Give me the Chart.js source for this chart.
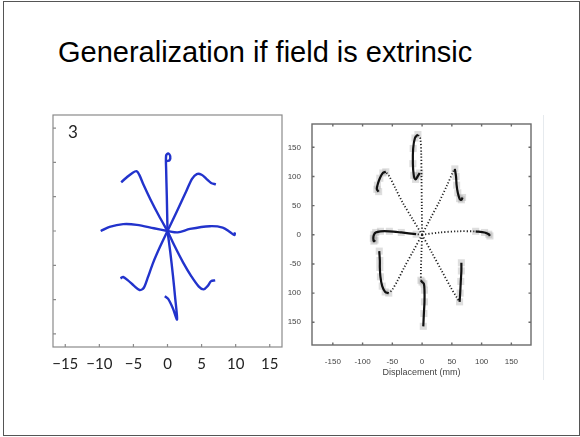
<!DOCTYPE html>
<html lang="en">
<head>
<meta charset="UTF-8">
<title>Generalization if field is extrinsic</title>
<script src="https://cdn.jsdelivr.net/npm/chart.js"></script>
<style>
    body { margin: 0; width: 580px; height: 437px; background: #fff; position: relative; overflow: hidden; font-family: "Liberation Sans", Arial, sans-serif; }
    .slide { position: absolute; left: 3px; top: 1px; width: 575px; height: 433px; border: 1px solid #555; }
    h1 { position: absolute; left: 58px; top: 38px; margin: 0; font-weight: normal; font-size: 29px; line-height: 29px; color: #000; white-space: nowrap; }
    #boxLeft { position: absolute; left: 40px; top: 105px; width: 250px; height: 275px; }
    #boxRight { position: absolute; left: 288px; top: 115px; width: 255px; height: 265px; border-right: 1px solid #e6eaee; }
</style>
</head>
<body>
<div class="slide"></div>
<h1>Generalization if field is extrinsic</h1>
<div id="boxLeft"><canvas id="graficoModelo"></canvas></div>
<div id="boxRight"><canvas id="graficoDados"></canvas></div>

<script>
    // ---- left panel: simulated hand paths (cm) ----
    const ticksModelo = [-15, -10, -5, 0, 5, 10, 15];
    const modeloCima = [[0, 0], [-0.1, 5], [-0.2, 9], [-0.2, 11], [0.1, 11.3], [0.4, 10.9], [0.3, 10.3], [-0.1, 10.2]];
    const modeloCimaEsq = [[0, 0], [-1.3, 2.3], [-2.5, 4.6], [-3.5, 6.7], [-4.1, 8.1], [-4.5, 8.7], [-5.1, 8.5], [-6, 7.8], [-6.8, 7.1]];
    const modeloCimaDir = [[0, 0], [1.3, 2.7], [2.8, 5.9], [3.6, 7.6], [4.3, 8.3], [5.0, 8.2], [5.7, 7.6], [6.4, 7.0], [7.1, 6.8]];
    const modeloDir = [[0, 0], [1.5, -0.2], [3.3, 0.3], [6.2, 0.7], [8.1, 0.5], [9.1, -0.1], [9.8, -0.6], [9.9, -0.2]];
    const modeloEsq = [[0, 0], [-2, 0.4], [-4.5, 0.9], [-6.5, 1.0], [-8.5, 0.6], [-9.8, 0]];
    const modeloBaixoEsq = [[0, 0], [-1.1, -2.3], [-2.1, -4.6], [-2.9, -6.8], [-3.5, -8.3], [-4.1, -8.6], [-4.9, -8.0], [-5.8, -7.2], [-6.5, -6.7], [-6.9, -6.9]];
    const modeloBaixoDir = [[0, 0], [1.1, -2.3], [2.3, -4.6], [3.5, -6.6], [4.6, -8.1], [5.3, -8.5], [5.9, -8.0], [6.4, -7.3], [7.0, -7.2]];
    const modeloBaixo = [[0, 0], [0.4, -3], [0.8, -6.5], [1.1, -9.5], [1.4, -12.9], [0.8, -11.3], [0.1, -9.9], [-0.4, -9.5]];

    // ---- right panel: measured paths (mm), fast part + slow end ----
    const ticksDados = [-150, -100, -50, 0, 50, 100, 150];
    const cimaIda = [[0, 0], [-0.5, 50], [-1, 100], [-1.5, 140], [-3, 165], [-7, 172]];
    const cimaFim = [[-7, 172], [-12, 166], [-15, 148], [-15.5, 122], [-14, 102], [-11, 95], [-7, 101], [-4, 106]];
    const cimaEsqIda = [[0, 0], [-16, 27], [-32, 54], [-45, 80], [-55, 100], [-61, 108]];
    const cimaEsqFim = [[-61, 108], [-66, 106], [-71, 97], [-75, 85], [-76, 78], [-73, 74]];
    const cimaDirIda = [[0, 0], [14, 28], [28, 55], [42, 85], [52, 108], [55, 113]];
    const cimaDirFim = [[55, 113], [57, 100], [58, 85], [60, 72], [63, 62], [66, 60], [68, 64]];
    const dirIda = [[0, 0], [30, 4], [60, 6], [90, 6]];
    const dirFim = [[90, 6], [105, 4], [112, 1], [114, -2]];
    const esqIda = [[0, 0], [-10, 1]];
    const esqFim = [[-10, 1], [-35, 4], [-55, 6], [-70, 6], [-78, 4], [-81, 0], [-82, -6], [-81, -11], [-79, -9]];
    const baixoEsqIda = [[0, 0], [-15, -28], [-30, -56], [-42, -80], [-50, -94], [-56, -100]];
    const baixoEsqFim = [[-56, -100], [-62, -98], [-67, -88], [-70, -72], [-71, -56], [-71, -44], [-72, -28]];
    const baixoDirIda = [[0, 0], [16, -30], [32, -60], [48, -90], [58, -107], [63, -115]];
    const baixoDirFim = [[63, -115], [64, -100], [65, -80], [66, -62], [66, -48]];
    const baixoIda = [[0, 0], [-1, -30], [-2, -60], [-2, -78]];
    const baixoFim = [[-2, -78], [0, -81], [3, -84], [4, -95], [4, -115], [3, -135], [2, -157]];

    const toXY = pts => pts.map(([x, y]) => ({ x, y }));

    // frame + inward tick marks drawn from the scales
    const moldura = {
        id: 'moldura',
        afterDatasetsDraw(chart, args, opts) {
            const { ctx, chartArea: a, scales } = chart;
            ctx.save();
            ctx.strokeStyle = opts.color;
            ctx.lineWidth = opts.width;
            ctx.strokeRect(a.left, a.top, a.right - a.left, a.bottom - a.top);
            ctx.beginPath();
            scales.x.ticks.forEach(t => {
                const px = scales.x.getPixelForValue(t.value);
                ctx.moveTo(px, a.bottom); ctx.lineTo(px, a.bottom - opts.tick);
                if (opts.mirror) { ctx.moveTo(px, a.top); ctx.lineTo(px, a.top + opts.tick); }
            });
            scales.y.ticks.forEach(t => {
                const py = scales.y.getPixelForValue(t.value);
                ctx.moveTo(a.left, py); ctx.lineTo(a.left + opts.tick, py);
                if (opts.mirror) { ctx.moveTo(a.right, py); ctx.lineTo(a.right - opts.tick, py); }
            });
            ctx.stroke();
            if (opts.label) {
                ctx.fillStyle = '#222';
                ctx.font = '17px Lato';
                ctx.textBaseline = 'top';
                ctx.fillText(opts.label, a.left + 15, a.top + 9);
            }
            ctx.restore();
        }
    };

    // left chart
    const curvasModelo = [modeloCima, modeloCimaEsq, modeloCimaDir, modeloDir, modeloEsq, modeloBaixoEsq, modeloBaixoDir, modeloBaixo];

    new Chart(document.getElementById('graficoModelo'), {
        type: 'scatter',
        data: {
            datasets: curvasModelo.map(c => ({
                data: toXY(c),
                showLine: true,
                borderColor: '#2233cc',
                borderWidth: 2.4,
                pointRadius: 0,
                tension: 0.3
            }))
        },
        options: {
            responsive: true,
            maintainAspectRatio: false,
            animation: false,
            layout: { padding: { top: 10, right: 8, left: 0, bottom: 0 } },
            plugins: {
                legend: { display: false },
                tooltip: { enabled: false },
                moldura: { color: '#8a8a8a', width: 1.2, tick: 3, mirror: false, label: '3' }
            },
            scales: {
                x: {
                    type: 'linear', min: -16.8, max: 16.8,
                    afterBuildTicks: s => { s.ticks = ticksModelo.map(v => ({ value: v })); },
                    afterFit: s => { s.height = 33; },
                    grid: { display: false },
                    border: { display: false },
                    ticks: {
                        color: '#222', padding: 0,
                        font: { family: 'Lato', size: 15 },
                        callback: v => String(v).replace('-', '\u2212')
                    }
                },
                y: {
                    type: 'linear', min: -16.9, max: 16.9,
                    afterBuildTicks: s => { s.ticks = ticksModelo.map(v => ({ value: v })); },
                    afterFit: s => { s.width = 13; },
                    grid: { display: false },
                    border: { display: false },
                    ticks: { display: false }
                }
            }
        },
        plugins: [moldura]
    });

    // right chart
    const idas = [cimaIda, cimaEsqIda, cimaDirIda, dirIda, esqIda, baixoEsqIda, baixoDirIda, baixoIda];
    const fins = [cimaFim, cimaEsqFim, cimaDirFim, dirFim, esqFim, baixoEsqFim, baixoDirFim, baixoFim];

    const sombras = fins.map(c => ({
        data: toXY(c),
        showLine: false,
        pointStyle: 'rect',
        pointRadius: 5,
        backgroundColor: 'rgba(160,160,160,0.35)',
        borderWidth: 0,
        order: 10
    }));
    const tracosIda = idas.map(c => ({
        data: toXY(c),
        showLine: true,
        borderColor: '#222',
        borderWidth: 1.8,
        borderDash: [1.2, 2],
        pointRadius: 0,
        tension: 0.3,
        order: 1
    }));
    const tracosFim = fins.map(c => ({
        data: toXY(c),
        showLine: true,
        borderColor: '#111',
        borderWidth: 2.2,
        pointRadius: 0,
        tension: 0.3,
        order: 0
    }));

    new Chart(document.getElementById('graficoDados'), {
        type: 'scatter',
        data: { datasets: [...sombras, ...tracosIda, ...tracosFim] },
        options: {
            responsive: true,
            maintainAspectRatio: false,
            animation: false,
            layout: { padding: { top: 9, right: 12, left: 0, bottom: 0 } },
            plugins: {
                legend: { display: false },
                tooltip: { enabled: false },
                moldura: { color: '#6a6a6a', width: 1.4, tick: 2.5, mirror: true }
            },
            scales: {
                x: {
                    type: 'linear', min: -185, max: 183,
                    afterBuildTicks: s => { s.ticks = ticksDados.map(v => ({ value: v })); },
                    afterFit: s => { s.height = 35; },
                    grid: { display: false },
                    border: { display: false },
                    ticks: { color: '#444', padding: 4, font: { family: 'Liberation Sans', size: 8 } },
                    title: {
                        display: true, text: 'Displacement (mm)', color: '#444',
                        font: { family: 'Liberation Sans', size: 9 },
                        padding: { top: 0, bottom: 2 }
                    }
                },
                y: {
                    type: 'linear', min: -189, max: 190,
                    afterBuildTicks: s => { s.ticks = ticksDados.map(v => ({ value: v })); },
                    afterFit: s => { s.width = 24; },
                    grid: { display: false },
                    border: { display: false },
                    ticks: { color: '#444', padding: 3, font: { family: 'Liberation Sans', size: 8 } }
                }
            }
        },
        plugins: [moldura]
    });
</script>
</body>
</html>
